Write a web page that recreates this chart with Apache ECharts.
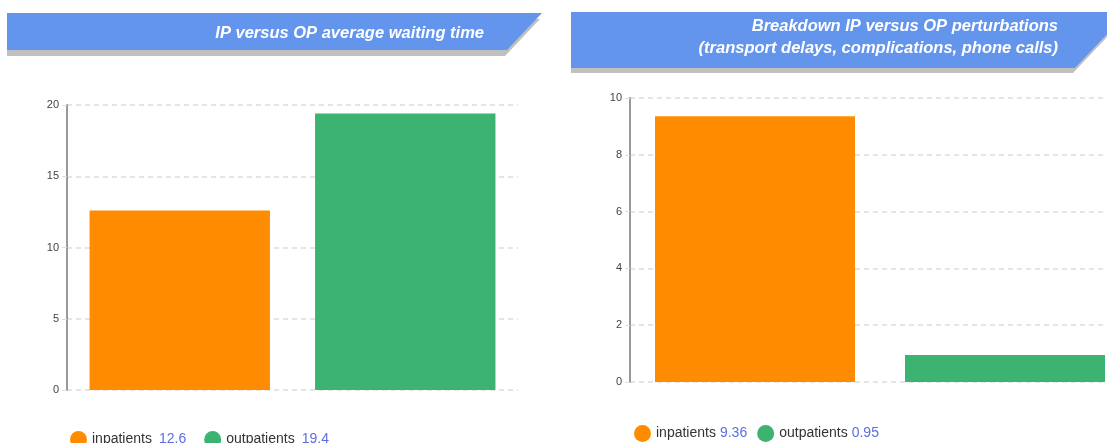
<!DOCTYPE html>
<html>
<head>
<meta charset="utf-8">
<script src="https://cdn.jsdelivr.net/npm/echarts@6/dist/echarts.min.js"></script>
<style>
  html, body { margin: 0; padding: 0; background: #fff; overflow: hidden; }
</style>
</head>
<body>
<!-- wider than the window on purpose: the right chart runs off the edge -->
<div id="main" style="width:1140px;height:443px;"></div>
<script>
// data
var seriesNames = ['inpatients', 'outpatients'];
var categories = ['inpatients', 'outpatients'];
var waitingValues = [12.6, 19.4];
var perturbValues = [9.36, 0.95];
var waitingTicks = { min: 0, max: 20, interval: 5 };
var perturbTicks = { min: 0, max: 10, interval: 2 };
var titleLeft = 'IP versus OP average waiting time';
var titleRight = 'Breakdown IP versus OP perturbations\n(transport delays, complications, phone calls)';

var colors = ['#FF8C00', '#3CB371'];
var valueColor = '#5b6fe0';

// one stacked series per patient type, so each bar sits alone in its category
function makeSeries(values, gridIdx) {
  return seriesNames.map(function (name, i) {
    var d = values.map(function (v, j) { return j === i ? v : '-'; });
    return {
      name: name,
      type: 'bar',
      stack: 'g' + gridIdx,
      xAxisIndex: gridIdx,
      yAxisIndex: gridIdx,
      barCategoryGap: '20%',
      itemStyle: { color: colors[i] },
      data: d
    };
  });
}

function makeLegend(values, left, top, gap, valuePad) {
  return {
    left: left,
    top: top,
    padding: 0,
    icon: 'circle',
    itemWidth: 17,
    itemHeight: 17,
    itemGap: gap,
    data: seriesNames,
    formatter: function (name) {
      return '{n|' + name + '}{v|' + values[seriesNames.indexOf(name)] + '}';
    },
    textStyle: {
      rich: {
        n: { fontSize: 14, color: '#333', fontFamily: 'Liberation Sans' },
        v: { fontSize: 14, color: valueColor, fontFamily: 'Liberation Sans', padding: [0, 0, 0, valuePad] }
      }
    }
  };
}

function yAxis(ticks, gridIdx) {
  return {
    type: 'value',
    gridIndex: gridIdx,
    min: ticks.min,
    max: ticks.max,
    interval: ticks.interval,
    axisLine: { show: true, lineStyle: { color: '#999', width: 2 } },
    axisTick: { show: true, length: 5, lineStyle: { color: '#ddd' } },
    axisLabel: { color: '#444', fontSize: 11, margin: 8, fontFamily: 'Liberation Sans' },
    splitLine: { show: true, lineStyle: { color: '#ddd', type: [5, 4], width: 1.5 } }
  };
}

function xAxis(gridIdx) {
  return {
    type: 'category',
    gridIndex: gridIdx,
    data: categories,
    axisLine: { show: false },
    axisTick: { show: false },
    axisLabel: { show: false }
  };
}

// banner shapes (decoration only)
function banner(points, color) {
  return { type: 'polygon', shape: { points: points }, style: { fill: color }, silent: true };
}

var titleFont = 'italic bold 16.5px "Liberation Sans"';

var myChart = echarts.init(document.getElementById('main'));
myChart.setOption({
  animation: false,
  grid: [
    { left: 67, top: 105, width: 451, height: 285 },
    { left: 630, top: 98, width: 500, height: 284 }
  ],
  xAxis: [xAxis(0), xAxis(1)],
  yAxis: [yAxis(waitingTicks, 0), yAxis(perturbTicks, 1)],
  legend: [
    makeLegend(waitingValues, 70, 431, 18, 7),
    makeLegend(perturbValues, 634, 425, 10, 4)
  ],
  graphic: [
    banner([[7, 19], [540, 19], [505, 56], [7, 56]], '#c0c0c0'),
    banner([[7, 13], [542, 13], [507, 50], [7, 50]], '#6495ED'),
    banner([[571, 17], [1126, 17], [1073, 73], [571, 73]], '#c0c0c0'),
    banner([[571, 12], [1128, 12], [1075, 68], [571, 68]], '#6495ED'),
    {
      type: 'text', x: 484, y: 33, silent: true,
      style: { text: titleLeft, font: titleFont, fill: '#fff', align: 'right', verticalAlign: 'middle' }
    },
    {
      type: 'text', x: 1058, y: 37, silent: true,
      style: { text: titleRight, font: titleFont, fill: '#fff', align: 'right', verticalAlign: 'middle', lineHeight: 22 }
    }
  ],
  series: makeSeries(waitingValues, 0).concat(makeSeries(perturbValues, 1))
});
</script>
</body>
</html>
